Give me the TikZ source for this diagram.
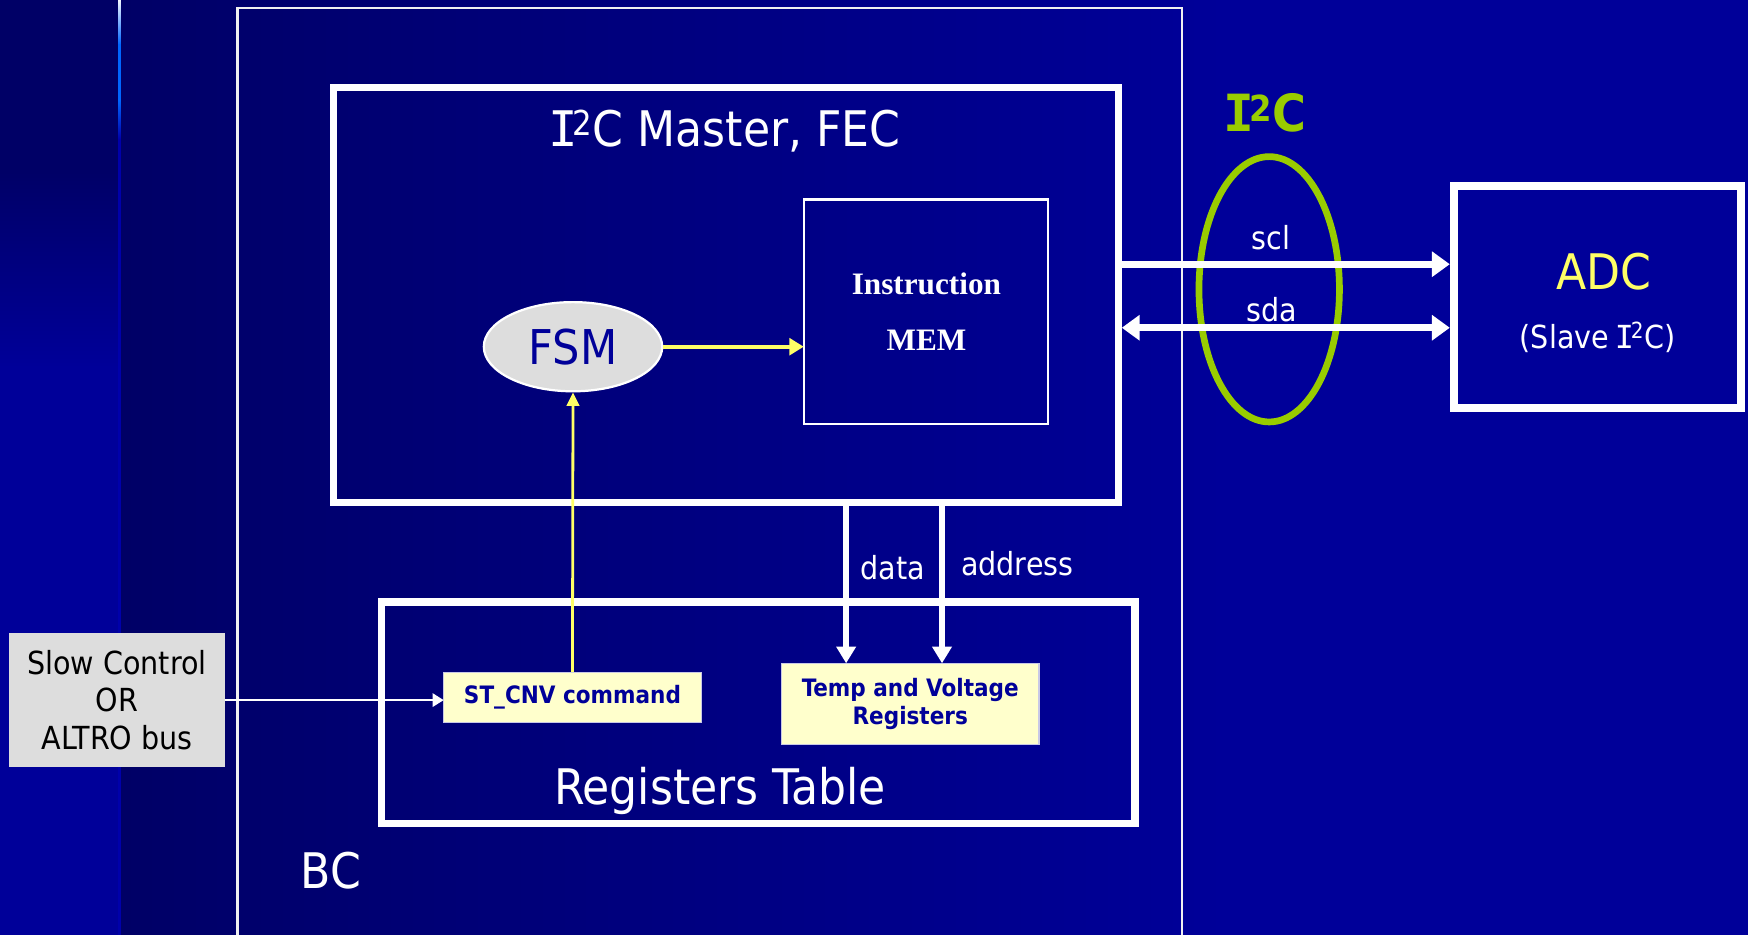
\documentclass[tikz,border=0pt]{standalone}
\usepackage{fontspec}
\setmainfont{DejaVu Sans Condensed}
\newfontfamily\timesfont{Liberation Serif}
\newfontfamily\monoI{DejaVu Sans Mono}
\usetikzlibrary{arrows.meta,shapes.geometric}
\definecolor{bgdark}{HTML}{000066}
\definecolor{bgblue}{HTML}{000099}
\definecolor{lineblue}{HTML}{0066FF}
\definecolor{linedark}{HTML}{0000AA}
\definecolor{regfill}{HTML}{FFFFCC}
\definecolor{greyfill}{HTML}{DDDDDD}
\definecolor{ylw}{HTML}{FFFF66}
\definecolor{grn}{HTML}{99CC00}
\definecolor{txtblue}{HTML}{000099}
\definecolor{regborder}{HTML}{C8C8E6}
\newcommand\fsz[2]{\fontsize{#1}{#2}\selectfont}
\newcommand\serifI{{\monoI\kern-0.1em I\kern-0.1em}}
\tikzset{
  box/.style={rectangle, inner sep=0pt, outer sep=0pt},
  thickbox/.style={box, draw=white, line width=6.5pt},
  thinbox/.style={box, draw=white, line width=2pt},
  regbox/.style={box, fill=regfill, draw=regborder, line width=1.2pt, text=txtblue,
    font=\bfseries\fsz{21.5}{25}, align=center},
  lbl/.style={inner sep=0pt, text=white, anchor=base},
  bigarrow/.style={draw=white, line width=6.5pt, -{Triangle[length=16pt,width=22pt]}},
  bigdbl/.style={draw=white, line width=6.5pt, {Triangle[length=16pt,width=22pt]}-{Triangle[length=16pt,width=22pt]}},
  midarrow/.style={draw=white, line width=6pt, -{Triangle[length=15pt,width=17pt]}},
}
\begin{document}
\begin{tikzpicture}[x=1pt,y=-1pt]
\useasboundingbox (0,0) rectangle (1568,838);
% background
\fill[bgdark] (-10,-10) rectangle (1580,850);
\shade[left color=bgdark, right color=bgblue] (107,-10) rectangle (1100,850);
\fill[bgblue] (1099,-10) rectangle (1580,850);
\shade[top color=bgdark, bottom color=bgblue] (-10,150) rectangle (107,330);
\fill[bgblue] (-10,329) rectangle (107,850);
% vertical accent line
\shade[top color=white, bottom color=lineblue] (106,-2) rectangle (108.5,40);
\fill[lineblue] (106,39.5) rectangle (108.5,90);
\shade[top color=lineblue, bottom color=linedark] (106,89.5) rectangle (108.5,125);
\fill[linedark] (106,124.5) rectangle (108.5,850);

% boxes
\node[thinbox, draw=white!88!gray, minimum width=847, minimum height=893] (bc) at (636.5,453.5) {};
\node[thickbox, minimum width=704, minimum height=372.5] (master) at (651,264.75) {};
\node[thinbox, minimum width=219, minimum height=201] (mem) at (830.5,279.5) {};
\node[ellipse, fill=greyfill, draw=white, line width=2pt, minimum width=160, minimum height=80,
      inner sep=0pt, text=txtblue, font=\fsz{43}{43}] (fsm) at (514,311) {FSM};
\node[thickbox, minimum width=676, minimum height=199] (regtab) at (680,639.5) {};
\node[regbox, minimum width=231, minimum height=45] (stcnv) at (513.5,625.5) {ST\_CNV command};
\node[regbox, minimum width=231, minimum height=73] (temp) at (816.5,631.5) {Temp and Voltage\\Registers};
\node[box, fill=greyfill, minimum width=194, minimum height=120, align=center,
      font=\fsz{28.5}{34}] (slow) at (105,628) {Slow Control\\OR\\ALTRO bus};
\node[thickbox, line width=7pt, minimum width=258, minimum height=199.5] (adc) at (1433,266.25) {};
\node[ellipse, draw=grn, line width=6pt, minimum width=126, minimum height=238, inner sep=0pt] (bus) at (1138.5,259.5) {};

% helper coordinates
\coordinate (sclY) at (0,237);
\coordinate (sdaY) at (0,294);
\coordinate (dataX) at (759,0);
\coordinate (addrX) at (845,0);

% connectors
\draw[bigarrow, shorten >=3.5pt] (master.east |- sclY) -- (adc.west |- sclY);
\draw[bigdbl, shorten >=3.5pt, shorten <=3.25pt] (master.east |- sdaY) -- (adc.west |- sdaY);
\draw[midarrow] (dataX |- master.south) -- (dataX |- temp.north);
\draw[midarrow] (addrX |- master.south) -- (addrX |- temp.north);
\draw[ylw, line width=3.5pt, -{Triangle[length=13pt,width=15pt]}] (fsm.east) -- (mem.west |- fsm.east);
\draw[ylw, line width=2.5pt, -{Triangle[length=12pt,width=11pt]}] (stcnv.north) -- (fsm.south);
\draw[white, line width=2pt, -{Triangle[length=10pt,width=12pt]}] (slow.east) -- (stcnv.west |- slow.east);

% labels
\node[lbl, font=\fsz{44}{44}] (mtitle) at (652,131) {\serifI\textsuperscript{2}C Master, FEC};
\node[lbl, font=\timesfont\bfseries\fsz{28}{28}] (memt1) at (831,264) {Instruction};
\node[lbl, font=\timesfont\bfseries\fsz{28}{28}] (memt2) at (831,314) {MEM};
\node[lbl, font=\fsz{44}{44}] (rtt) at (646,722) {Registers Table};
\node[lbl, font=\fsz{44}{44}] (bct) at (297,797) {BC};
\node[lbl, anchor=base west, font=\fsz{28.5}{28.5}] (datat) at (772,520) {data};
\node[lbl, anchor=base west, font=\fsz{28.5}{28.5}] (addrt) at (862,516) {address};
\node[lbl, font=\fsz{28.5}{28.5}] (sclt) at (1140,224) {scl};
\node[lbl, font=\fsz{28.5}{28.5}] (sdat) at (1141,288) {sda};
\node[lbl, text=ylw, font=\fsz{44}{44}] (adct) at (1439,260) {ADC};
\node[lbl, font=\fsz{28.5}{28.5}] (slavet) at (1433,313) {(Slave \serifI\textsuperscript{2}C)};
\node[lbl, text=grn, font=\bfseries\fsz{46}{46}] (i2ct) at (1137,118) {\serifI\textsuperscript{2}C};
\end{tikzpicture}
\end{document}
